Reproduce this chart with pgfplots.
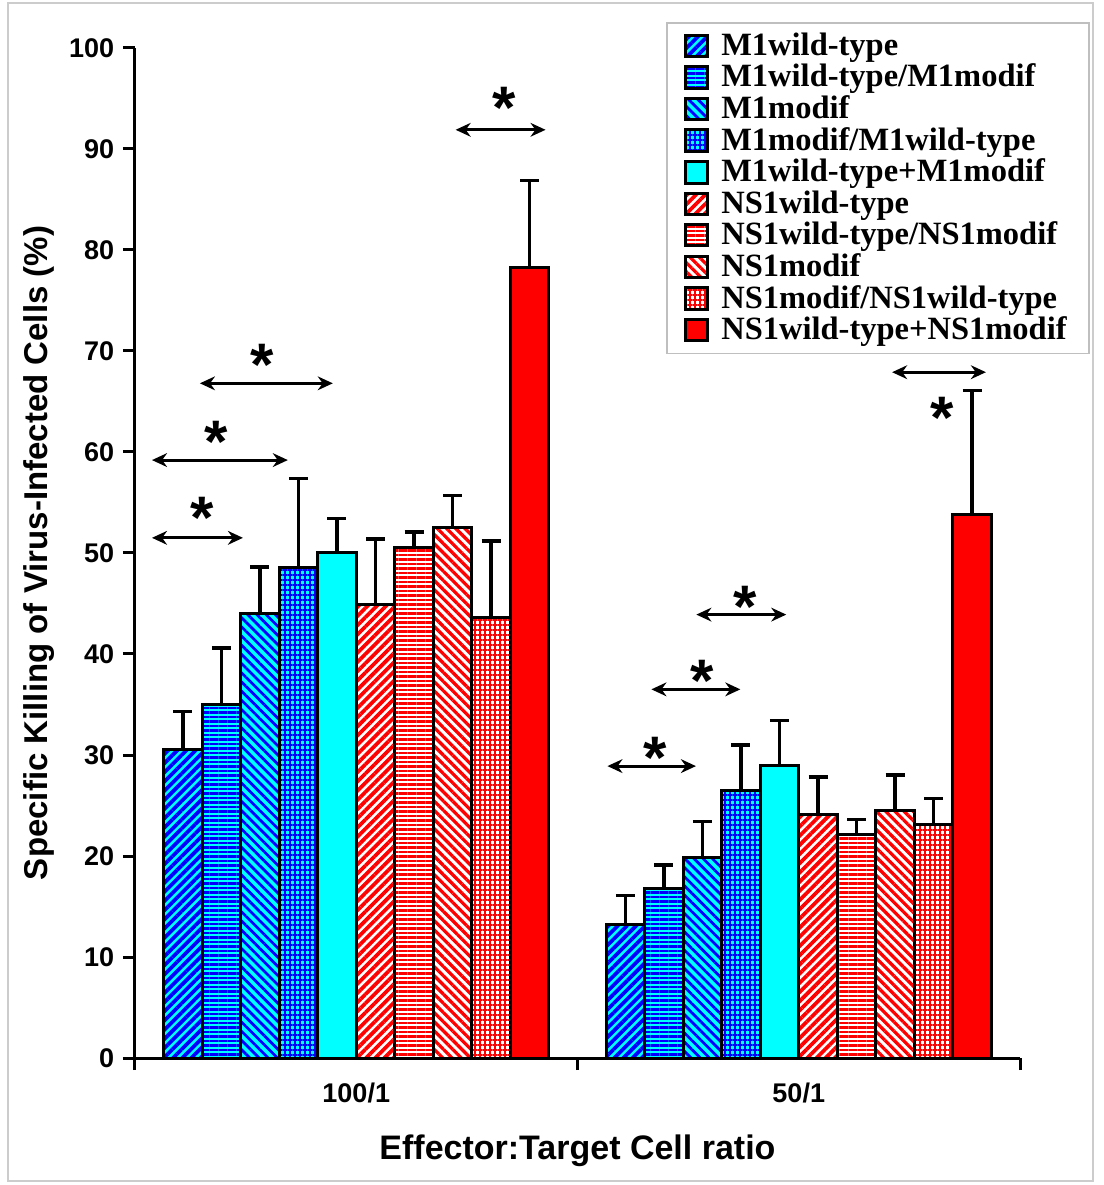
\documentclass[border=0pt]{standalone}
\usepackage{fontspec}
\setmainfont{Liberation Sans}
\newfontfamily\legfont{Liberation Serif}
\usepackage{pgfplots}
\pgfplotsset{compat=1.18}
\usetikzlibrary{patterns.meta,arrows.meta}

\definecolor{bblue}{RGB}{0,0,255}
\definecolor{bcyan}{RGB}{0,255,255}
\definecolor{bred}{RGB}{255,0,0}

% one style per series: fill + pattern drawn on top
\pgfplotsset{
  eb/.style={error bars/y dir=plus, error bars/y explicit,
    error bars/error bar style={line width=1.4pt, black, solid},
    error bars/error mark options={rotate=90, black, line width=1.4pt, mark size=3.8pt}},
  s1/.style={eb, fill=bcyan, postaction={pattern={Lines[angle=45,distance=2.6pt,line width=1.5pt]}, pattern color=bblue}},
  s2/.style={eb, fill=bcyan, postaction={pattern={Lines[angle=0,distance=1.8pt,line width=0.9pt]}, pattern color=bblue}},
  s3/.style={eb, fill=bcyan, postaction={pattern={Lines[angle=-45,distance=2.6pt,line width=1.1pt]}, pattern color=bblue}},
  s4/.style={eb, fill=bcyan, postaction={pattern={Hatch[angle=0,distance=2pt,line width=0.7pt]}, pattern color=bblue}},
  s5/.style={eb, fill=bcyan},
  s6/.style={eb, fill=white, postaction={pattern={Lines[angle=45,distance=2.6pt,line width=1.5pt]}, pattern color=bred}},
  s7/.style={eb, fill=white, postaction={pattern={Lines[angle=0,distance=1.8pt,line width=1.05pt]}, pattern color=bred}},
  s8/.style={eb, fill=white, postaction={pattern={Lines[angle=-45,distance=2.6pt,line width=1.3pt]}, pattern color=bred}},
  s9/.style={eb, fill=white, postaction={pattern={Hatch[angle=0,distance=2pt,line width=0.6pt]}, pattern color=bred}},
  s10/.style={eb, fill=bred},
}

\begin{document}
\begin{tikzpicture}
\useasboundingbox (-54pt,-50.8pt) rectangle (387.6pt,423.2pt);
\draw[black!20, line width=0.6pt] (-50.8pt,-49.2pt) rectangle (383.2pt,422pt);
\begin{axis}[
  at={(0,0)}, anchor=south west,
  scale only axis, width=354pt, height=404pt,
  ybar,
  bar width=0.0871,
  axis lines=left,
  axis line style={-, line width=1.2pt},
  xmin=-0.5, xmax=1.5,
  ymin=0, ymax=100,
  ytick={0,10,...,100},
  xtick={-0.5,0.5,1.5},
  x tick label as interval,
  xticklabels={100/1,50/1},
  tick align=outside,
  major tick length=4.8pt,
  tick style={line width=1.2pt, black},
  ytick pos=left, xtick pos=bottom,
  /pgf/number format/assume math mode=true,
  tick label style={font=\fontsize{10.8}{12}\selectfont\bfseries},
  x tick label style={yshift=-1.6pt},
  ylabel={Specific Killing of Virus-Infected Cells (\%)},
  ylabel style={font=\fontsize{13.2}{15}\selectfont\bfseries, yshift=-1pt},
  xlabel={Effector:Target Cell ratio},
  xlabel style={font=\fontsize{13.6}{15}\selectfont\bfseries, yshift=-6pt},
  every axis plot/.append style={draw=black, line width=1.2pt},
  legend style={at={(axis description cs:1.079,1.0257)}, anchor=north east,
    draw=black!25, line width=0.6pt, font=\legfont\fontsize{13}{14}\selectfont\bfseries,
    row sep=-2pt, column sep=3pt, inner xsep=7pt, inner ysep=2pt, cells={anchor=west}},
  legend image code/.code={\draw[#1, line width=1.2pt] (0pt,-4.3pt) rectangle (8.6pt,4.3pt);},
]
\addplot[s1, bar shift=-0.392] coordinates {(0,30.5) +- (0,3.8) (1,13.2) +- (0,2.9)};
\addlegendentry{M1wild-type}
\addplot[s2, bar shift=-0.3049] coordinates {(0,35.0) +- (0,5.6) (1,16.8) +- (0,2.3)};
\addlegendentry{M1wild-type/M1modif}
\addplot[s3, bar shift=-0.2178] coordinates {(0,44.0) +- (0,4.6) (1,19.9) +- (0,3.5)};
\addlegendentry{M1modif}
\addplot[s4, bar shift=-0.1307] coordinates {(0,48.6) +- (0,8.8) (1,26.5) +- (0,4.5)};
\addlegendentry{M1modif/M1wild-type}
\addplot[s5, bar shift=-0.0436] coordinates {(0,50.0) +- (0,3.4) (1,29.0) +- (0,4.4)};
\addlegendentry{M1wild-type+M1modif}
\addplot[s6, bar shift=0.0436] coordinates {(0,44.9) +- (0,6.5) (1,24.1) +- (0,3.7)};
\addlegendentry{NS1wild-type}
\addplot[s7, bar shift=0.1307] coordinates {(0,50.5) +- (0,1.6) (1,22.1) +- (0,1.5)};
\addlegendentry{NS1wild-type/NS1modif}
\addplot[s8, bar shift=0.2178] coordinates {(0,52.5) +- (0,3.2) (1,24.5) +- (0,3.5)};
\addlegendentry{NS1modif}
\addplot[s9, bar shift=0.3049] coordinates {(0,43.6) +- (0,7.6) (1,23.1) +- (0,2.6)};
\addlegendentry{NS1modif/NS1wild-type}
\addplot[s10, bar shift=0.392] coordinates {(0,78.3) +- (0,8.6) (1,53.8) +- (0,12.3)};
\addlegendentry{NS1wild-type+NS1modif}

% significance arrows
\begin{scope}[line width=1.2pt, {Stealth[length=6pt,width=5.5pt]}-{Stealth[length=6pt,width=5.5pt]}]
\draw (axis cs:-0.4616,51.5) -- (axis cs:-0.256,51.5);
\draw (axis cs:-0.4616,59.2) -- (axis cs:-0.1546,59.2);
\draw (axis cs:-0.3533,66.8) -- (axis cs:-0.053,66.8);
\draw (axis cs:0.2246,91.9) -- (axis cs:0.4278,91.9);
\draw (axis cs:1.211,67.9) -- (axis cs:1.423,67.9);
\draw (axis cs:0.7686,43.9) -- (axis cs:0.9718,43.9);
\draw (axis cs:0.667,36.5) -- (axis cs:0.868,36.5);
\draw (axis cs:0.5677,28.9) -- (axis cs:0.7677,28.9);
\end{scope}
\begin{scope}[every node/.style={font=\fontsize{24}{24}\selectfont\bfseries, inner sep=0pt, anchor=center, yshift=-5pt}]
\node at (axis cs:-0.349,54.75) {*};
\node at (axis cs:-0.317,62.2) {*};
\node at (axis cs:-0.213,69.9) {*};
\node at (axis cs:0.335,95.3) {*};
\node at (axis cs:1.324,64.6) {*};
\node at (axis cs:0.879,45.9) {*};
\node at (axis cs:0.782,38.6) {*};
\node at (axis cs:0.676,31.0) {*};
\end{scope}
\end{axis}
\end{tikzpicture}
\end{document}
